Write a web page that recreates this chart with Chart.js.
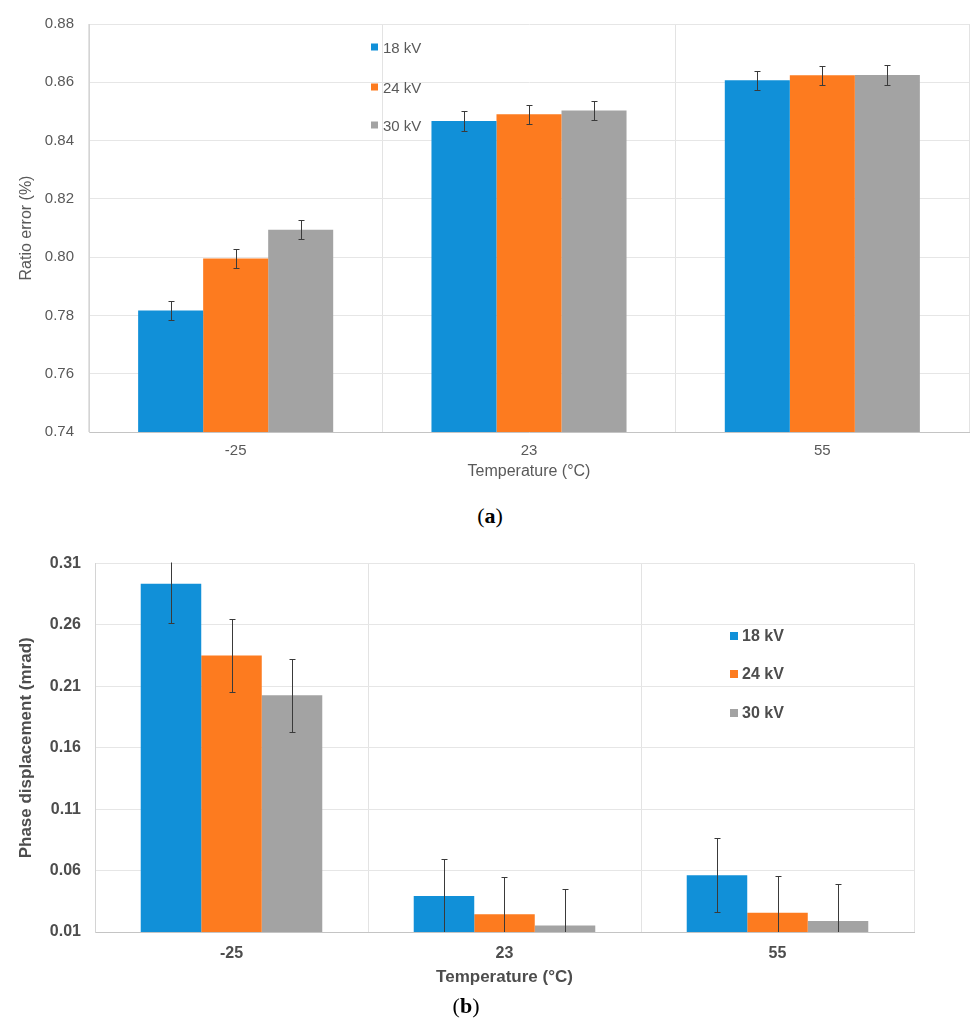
<!DOCTYPE html>
<html>
<head>
<meta charset="utf-8">
<script src="https://cdn.jsdelivr.net/npm/chart.js@4.4.0/dist/chart.umd.min.js"></script>
<style>
  html, body { margin: 0; padding: 0; background: #fff; }
  body { width: 971px; height: 1023px; position: relative; overflow: hidden;
         font-family: "Liberation Sans", Arial, sans-serif; }
  .wrap { position: absolute; left: 0; width: 971px; }
  #wrapA { top: 0; height: 482px; }
  #wrapB { top: 540px; height: 460px; }
  canvas { display: block; }
  .legend-item { position: absolute; white-space: nowrap; display: flex; align-items: center; transform: translateY(-50%); }
  .legend-item .sw { display: inline-block; }
  .panel { position: absolute; font-family: "Liberation Serif", "Times New Roman", serif;
           font-size: 22px; color: #000; transform: translate(-50%, -50%); white-space: nowrap; }
</style>
</head>
<body>
<div class="wrap" id="wrapA"><canvas id="ratioChart" width="971" height="482"></canvas></div>
<div class="wrap" id="wrapB"><canvas id="phaseChart" width="971" height="460"></canvas></div>
<div class="panel" style="left:490px; top:516px">(<b>a</b>)</div>
<div class="panel" style="left:466px; top:1006px">(<b>b</b>)</div>
<div id="legendA"></div>
<div id="legendB"></div>

<script>
// Temperatures (°C) and test voltages
const categories = ['-25', '23', '55'];
const seriesNames = ['18 kV', '24 kV', '30 kV'];
const seriesColors = ['#1190d8', '#fd7b1f', '#a3a3a3'];

// (a) Ratio error (%)
const ratio18 = [0.7817, 0.8467, 0.8607];
const ratio24 = [0.7995, 0.8490, 0.8624];
const ratio30 = [0.8094, 0.8503, 0.8625];
const ratioErr18 = [0.0033, 0.0033, 0.0033];
const ratioErr24 = [0.0033, 0.0033, 0.0033];
const ratioErr30 = [0.0033, 0.0033, 0.0033];
const ratioTicks = [0.74, 0.76, 0.78, 0.80, 0.82, 0.84, 0.86, 0.88];

// (b) Phase displacement (mrad)
const phase18 = [0.2935, 0.0393, 0.0563];
const phase24 = [0.2352, 0.0245, 0.0257];
const phase30 = [0.2027, 0.0153, 0.0189];
const phaseErr18 = [0.032, 0.030, 0.030];
const phaseErr24 = [0.030, 0.030, 0.030];
const phaseErr30 = [0.030, 0.030, 0.030];
const phaseTicks = [0.01, 0.06, 0.11, 0.16, 0.21, 0.26, 0.31];

const FONT = "'Liberation Sans', Arial, sans-serif";
Chart.defaults.font.family = FONT;

// Vertical error bars with caps, drawn through the y scale
const errorBars = {
  id: 'errorBars',
  afterDatasetsDraw(chart, args, opts) {
    const { ctx, chartArea, scales } = chart;
    const y = scales.y;
    ctx.save();
    ctx.beginPath();
    ctx.rect(chartArea.left, chartArea.top - 1, chartArea.right - chartArea.left, chartArea.bottom - chartArea.top + 1);
    ctx.clip();
    ctx.strokeStyle = opts.color;
    ctx.lineWidth = opts.width;
    chart.data.datasets.forEach((ds, i) => {
      const meta = chart.getDatasetMeta(i);
      meta.data.forEach((bar, j) => {
        const v = ds.data[j], e = ds.errors[j];
        const x = Math.round(bar.x) + 0.5;
        const yt = Math.round(y.getPixelForValue(v + e)) + 0.5;
        const yb = Math.round(y.getPixelForValue(v - e)) + 0.5;
        ctx.beginPath();
        ctx.moveTo(x, yt); ctx.lineTo(x, yb);
        ctx.moveTo(x - opts.cap, yt); ctx.lineTo(x + opts.cap, yt);
        ctx.moveTo(x - opts.cap, yb); ctx.lineTo(x + opts.cap, yb);
        ctx.stroke();
      });
    });
    ctx.restore();
  }
};

function buildDatasets(values, errors) {
  return seriesNames.map((name, i) => ({
    label: name,
    data: values[i],
    errors: errors[i],
    backgroundColor: seriesColors[i],
    borderWidth: 0,
    barPercentage: 1.0,
    categoryPercentage: 0.665
  }));
}

function makeChart(id, p) {
  return new Chart(document.getElementById(id), {
    type: 'bar',
    data: { labels: categories, datasets: buildDatasets(p.values, p.errors) },
    plugins: [errorBars],
    options: {
      responsive: false,
      animation: false,
      layout: { padding: p.padding },
      plugins: {
        legend: { display: false },
        tooltip: { enabled: false },
        errorBars: { color: '#3a3a3a', width: 1, cap: p.cap }
      },
      scales: {
        x: {
          offset: true,
          grid: { display: true, offset: true, color: '#e3e3e3', drawTicks: false },
          border: { display: true, color: '#c4c4c4', width: 1 },
          ticks: { color: p.textColor, font: p.tickFont, padding: p.xTickPad, maxRotation: 0 },
          title: { display: true, text: 'Temperature (°C)', color: p.textColor, font: p.titleFont,
                   padding: { top: 0, bottom: p.xTitlePad } },
          afterFit(scale) { scale.height = p.xHeight; }
        },
        y: {
          min: p.ticks[0],
          max: p.ticks[p.ticks.length - 1],
          afterBuildTicks(scale) { scale.ticks = p.ticks.map(v => ({ value: v })); },
          grid: { color: '#e6e6e6', drawTicks: false },
          border: { display: true, color: '#d4d4d4', width: 1 },
          ticks: { color: p.textColor, font: p.tickFont, padding: p.yTickPad,
                   callback: v => Number(v).toFixed(2) },
          title: { display: true, text: p.yTitle, color: p.textColor, font: p.titleFont,
                   padding: { top: p.yTitlePad, bottom: 0 } },
          afterFit(scale) { scale.width = p.yWidth; }
        }
      }
    }
  });
}

makeChart('ratioChart', {
  values: [ratio18, ratio24, ratio30],
  errors: [ratioErr18, ratioErr24, ratioErr30],
  ticks: ratioTicks,
  yTitle: 'Ratio error (%)',
  textColor: '#595959',
  tickFont: { size: 15, weight: 'normal' },
  titleFont: { size: 16, weight: 'normal' },
  padding: { top: 22, right: 2, left: 0, bottom: 0 },
  yWidth: 89, xHeight: 50,
  xTickPad: 10, xTitlePad: 1, yTickPad: 15, yTitlePad: 17,
  cap: 3
});

makeChart('phaseChart', {
  values: [phase18, phase24, phase30],
  errors: [phaseErr18, phaseErr24, phaseErr30],
  ticks: phaseTicks,
  yTitle: 'Phase displacement (mrad)',
  textColor: '#4d4d4d',
  tickFont: { size: 16, weight: 'bold' },
  titleFont: { size: 17, weight: 'bold' },
  padding: { top: 23, right: 57, left: 0, bottom: 0 },
  yWidth: 95, xHeight: 68,
  xTickPad: 12, xTitlePad: 12, yTickPad: 14, yTitlePad: 16,
  cap: 3
});

// Legends placed inside the plot areas
function buildLegend(containerId, o) {
  const box = document.getElementById(containerId);
  seriesNames.forEach((name, i) => {
    const item = document.createElement('div');
    item.className = 'legend-item';
    item.style.left = o.x + 'px';
    item.style.top = o.ys[i] + 'px';
    item.style.font = o.font;
    item.style.color = o.color;
    const sw = document.createElement('span');
    sw.className = 'sw';
    sw.style.width = o.sw + 'px';
    sw.style.height = o.sw + 'px';
    sw.style.background = seriesColors[i];
    sw.style.marginRight = o.gap + 'px';
    item.appendChild(sw);
    item.appendChild(document.createTextNode(name));
    box.appendChild(item);
  });
}
buildLegend('legendA', { x: 371, ys: [47, 87, 125], sw: 7, gap: 5,
  font: "15px 'Liberation Sans', Arial, sans-serif", color: '#595959' });
buildLegend('legendB', { x: 730, ys: [636, 674, 713], sw: 8, gap: 4,
  font: "bold 16px 'Liberation Sans', Arial, sans-serif", color: '#4d4d4d' });
</script>
</body>
</html>
